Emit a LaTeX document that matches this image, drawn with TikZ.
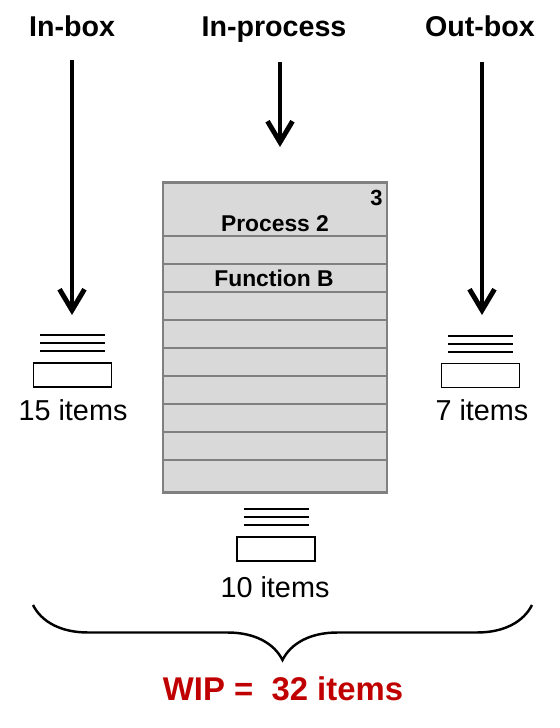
\documentclass[tikz,border=0pt]{standalone}
\usepackage{fontspec}
\setmainfont{Liberation Sans}
\usetikzlibrary{arrows.meta,decorations.pathreplacing,positioning}
\definecolor{wipred}{HTML}{C00000}
\definecolor{boxgray}{HTML}{D9D9D9}
\definecolor{edgegray}{HTML}{808080}
\tikzset{title/.style={font=\fontsize{16.3}{19}\selectfont\bfseries, inner sep=0pt, anchor=base},
         flow/.style={line width=2.8pt, -{Straight Barb[length=0.42cm,width=0.5cm]}},
         tray/.style={draw, line width=1.1pt, minimum width=1.56cm, minimum height=0.48cm, inner sep=0pt},
         count/.style={font=\fontsize{16.4}{19}\selectfont, inner sep=0pt, anchor=base},
         procbox/.style={draw=edgegray, fill=boxgray, line width=1.2pt, minimum width=4.48cm, minimum height=6.2cm, inner sep=0pt},
         rowline/.style={edgegray, line width=0.8pt},
         boxtext/.style={font=\fontsize{13}{15}\selectfont\bfseries, inner sep=0pt},
         wipbrace/.style={decorate, decoration={brace, amplitude=1.1cm}, line width=1.4pt}}

\begin{document}
\begin{tikzpicture}[x=0.02cm, y=-0.02cm]
   \useasboundingbox (0,0) rectangle (559,728);
   % headings
   \node[title] (inbox)  at (72,36)  {In-box};
   \node[title] (inproc) at (274,36) {In-process};
   \node[title] (outbox) at (480,36) {Out-box};
   % process sheet
   \node[procbox] (proc) at (275,337.5) {};
   \foreach \y in {236,264,...,460}
     \draw[rowline] (proc.west |- 0,\y) -- (proc.east |- 0,\y);
   \node[boxtext] (procname) at (275,224) {Process 2};
   \node[boxtext] (procfn)   at (274,278) {Function B};
   \node[boxtext, font=\fontsize{12.5}{14}\selectfont\bfseries, anchor=north east] (procno) at ([xshift=-0.1cm, yshift=-0.17cm]proc.north east) {3};
   % trays
   \node[tray] (intray)   at (72.5,375) {};
   \node[tray] (outtray)  at (480.5,375.5) {};
   \node[tray] (proctray) at (276,549) {};
   \foreach \t in {intray,outtray,proctray}
     \foreach \d in {27,19,11}
       \draw[line width=1.1pt] ([yshift=\d*0.02cm]\t.north) ++(-32.5,0) -- ++(65,0);
   \node[count] (incount)   at (73,420)  {15 items};
   \node[count] (outcount)  at (482,420) {7 items};
   \node[count] (proccount) at (275,597) {10 items};
   % arrows
   \coordinate (instart)   at (72,60);   \coordinate (intip)   at (72,315);
   \coordinate (procstart) at (280,62);  \coordinate (proctip) at (280,147);
   \coordinate (outstart)  at (482,62);  \coordinate (outtip)  at (482,315);
   \draw[flow] (instart) -- (intip);
   \draw[flow] (procstart) -- (proctip);
   \draw[flow] (outstart) -- (outtip);
   % total
   \coordinate (braceright) at (532,605);
   \coordinate (braceleft)  at (33,605);
   \draw[wipbrace] (braceright) -- (braceleft);
   \node[font=\fontsize{18.7}{22}\selectfont\bfseries, text=wipred, inner sep=0pt, anchor=base] (wip) at (283,700) {WIP = \ 32 items};
\end{tikzpicture}
\end{document}
